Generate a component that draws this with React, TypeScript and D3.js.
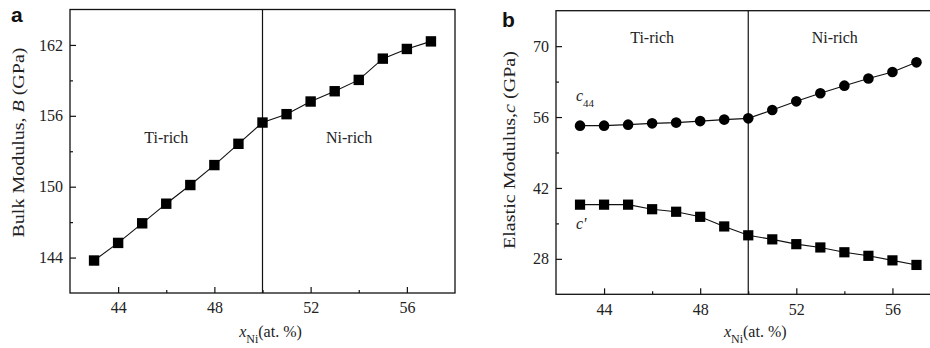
import React, { useEffect, useRef } from "react";
import * as d3 from "d3";

const xNi = [43, 44, 45, 46, 47, 48, 49, 50, 51, 52, 53, 54, 55, 56, 57];
const bulkB = [143.75, 145.24, 146.9, 148.56, 150.14, 151.83, 153.63, 155.43, 156.14, 157.21, 158.08, 159.04, 160.84, 161.66, 162.3];
const c44 = [54.3, 54.3, 54.5, 54.76, 54.9, 55.2, 55.5, 55.74, 57.4, 59.1, 60.7, 62.2, 63.6, 64.9, 66.8];
const cPrime = [38.7, 38.7, 38.7, 37.8, 37.3, 36.3, 34.4, 32.65, 31.85, 30.9, 30.25, 29.3, 28.6, 27.7, 26.8];
const xTicks = [44, 48, 52, 56];
const xMinor = [46, 50, 54];
const yTicksA = [144, 150, 156, 162];
const yMinorA = [147, 153, 159];
const yTicksB = [28, 42, 56, 70];
const yMinorB = [35, 49, 63];
const boundary = 50;

const SERIF = "'Liberation Serif', 'Times New Roman', serif";

export default function App() {
  const ref = useRef<SVGSVGElement | null>(null);

  useEffect(() => {
    const svg = d3.select(ref.current);
    svg.selectAll("*").remove();

    function panel(opts: {
      x0: number; x1: number; yTop: number; yBot: number;
      yDomain: [number, number]; yTicks: number[]; yMinor: number[];
      letter: string; letterX: number; letterY: number;
      yLabel: (t: any) => void; yLabelX: number; yLabelY: number; yLabelLen: number;
      regionY: number; xLabelDx: number;
    }) {
      const g = svg.append("g");
      const x = d3.scaleLinear().domain([42, 58]).range([opts.x0, opts.x1]);
      const y = d3.scaleLinear().domain(opts.yDomain).range([opts.yBot, opts.yTop]);

      // frame
      g.append("rect")
        .attr("x", opts.x0).attr("y", opts.yTop)
        .attr("width", opts.x1 - opts.x0).attr("height", opts.yBot - opts.yTop)
        .attr("fill", "none").attr("stroke", "#111").attr("stroke-width", 1.3);

      // axes
      const ax = g.append("g").attr("transform", `translate(0,${opts.yBot})`)
        .call(d3.axisBottom(x).tickValues(xTicks).tickSize(-6).tickPadding(9).tickFormat(d3.format("d")));
      const axm = g.append("g").attr("transform", `translate(0,${opts.yBot})`)
        .call(d3.axisBottom(x).tickValues(xMinor).tickSize(-3).tickFormat(() => ""));
      const ay = g.append("g").attr("transform", `translate(${opts.x0},0)`)
        .call(d3.axisLeft(y).tickValues(opts.yTicks).tickSize(-6).tickPadding(7).tickFormat(d3.format("d")));
      const aym = g.append("g").attr("transform", `translate(${opts.x0},0)`)
        .call(d3.axisLeft(y).tickValues(opts.yMinor).tickSize(-3).tickFormat(() => ""));
      [ax, axm, ay, aym].forEach((a) => {
        a.select(".domain").remove();
        a.selectAll("line").attr("stroke", "#111").attr("stroke-width", 1.2);
        a.selectAll("text").attr("font-family", SERIF).attr("font-size", 16).attr("fill", "#222");
      });

      // boundary line
      g.append("line")
        .attr("x1", x(boundary)).attr("x2", x(boundary))
        .attr("y1", opts.yTop).attr("y2", opts.yBot)
        .attr("stroke", "#111").attr("stroke-width", 1.2);

      // region labels
      g.append("text").attr("x", x(46)).attr("y", opts.regionY)
        .attr("text-anchor", "middle").attr("font-family", SERIF).attr("font-size", 16).attr("fill", "#222")
        .text("Ti-rich");
      g.append("text").attr("x", x(53.6)).attr("y", opts.regionY)
        .attr("text-anchor", "middle").attr("font-family", SERIF).attr("font-size", 16).attr("fill", "#222")
        .text("Ni-rich");

      // letter
      g.append("text").attr("x", opts.letterX).attr("y", opts.letterY)
        .attr("font-family", "'Liberation Sans', Arial, sans-serif").attr("font-weight", "bold")
        .attr("font-size", 21).attr("fill", "#111").text(opts.letter);

      // y label
      const yl = g.append("text")
        .attr("transform", `translate(${opts.yLabelX},${opts.yLabelY}) rotate(-90)`)
        .attr("text-anchor", "middle").attr("font-family", SERIF).attr("font-size", 16).attr("fill", "#222")
        .attr("textLength", opts.yLabelLen).attr("lengthAdjust", "spacingAndGlyphs");
      opts.yLabel(yl);

      // x label
      const xl = g.append("text")
        .attr("x", x(boundary) + opts.xLabelDx).attr("y", 337)
        .attr("text-anchor", "middle").attr("font-family", SERIF).attr("font-size", 16).attr("fill", "#222");
      xl.append("tspan").attr("font-style", "italic").text("x");
      xl.append("tspan").attr("font-size", 12).attr("dy", 6).text("Ni");
      xl.append("tspan").attr("dy", -6).text("(at. %)");

      return { g, x, y };
    }

    // Panel a
    const a = panel({
      x0: 70, x1: 455, yTop: 9.5, yBot: 293,
      yDomain: [141, 165], yTicks: yTicksA, yMinor: yMinorA,
      letter: "a", letterX: 11, letterY: 22,
      yLabel: (t) => {
        t.append("tspan").text("Bulk Modulus, ");
        t.append("tspan").attr("font-style", "italic").text("B");
        t.append("tspan").text(" (GPa)");
      },
      yLabelX: 24, yLabelY: 142.5, yLabelLen: 190,
      regionY: 143, xLabelDx: 8,
    });
    const lineA = d3.line<number>().x((_, i) => a.x(xNi[i])).y((d) => a.y(d));
    a.g.append("path").attr("d", lineA(bulkB) || "").attr("fill", "none").attr("stroke", "#111").attr("stroke-width", 1.1);
    a.g.selectAll("rect.pt").data(bulkB).enter().append("rect").attr("class", "pt")
      .attr("x", (_, i) => a.x(xNi[i]) - 5.2).attr("y", (d) => a.y(d) - 5.2)
      .attr("width", 10.4).attr("height", 10.4).attr("fill", "#000");

    // Panel b
    const b = panel({
      x0: 556, x1: 940.5, yTop: 10.7, yBot: 294.3,
      yDomain: [21, 77], yTicks: yTicksB, yMinor: yMinorB,
      letter: "b", letterX: 502, letterY: 27,
      yLabel: (t) => {
        t.append("tspan").text("Elastic Modulus,");
        t.append("tspan").attr("font-style", "italic").text("c");
        t.append("tspan").text(" (GPa)");
      },
      yLabelX: 515, yLabelY: 150, yLabelLen: 198,
      regionY: 43, xLabelDx: 7,
    });
    const lineB = d3.line<number>().x((_, i) => b.x(xNi[i])).y((d) => b.y(d));
    b.g.append("path").attr("d", lineB(c44) || "").attr("fill", "none").attr("stroke", "#111").attr("stroke-width", 1.1);
    b.g.append("path").attr("d", lineB(cPrime) || "").attr("fill", "none").attr("stroke", "#111").attr("stroke-width", 1.1);
    b.g.selectAll("circle.pt").data(c44).enter().append("circle").attr("class", "pt")
      .attr("cx", (_, i) => b.x(xNi[i])).attr("cy", (d) => b.y(d)).attr("r", 5.3).attr("fill", "#000");
    b.g.selectAll("rect.pt").data(cPrime).enter().append("rect").attr("class", "pt")
      .attr("x", (_, i) => b.x(xNi[i]) - 5.1).attr("y", (d) => b.y(d) - 5.1)
      .attr("width", 10.2).attr("height", 10.2).attr("fill", "#000");

    // series labels
    const t1 = b.g.append("text").attr("x", 576).attr("y", 101)
      .attr("font-family", SERIF).attr("font-size", 16).attr("fill", "#222");
    t1.append("tspan").attr("font-style", "italic").text("c");
    t1.append("tspan").attr("font-size", 11).attr("dy", 6).text("44");
    b.g.append("text").attr("x", 576).attr("y", 229)
      .attr("font-family", SERIF).attr("font-size", 16).attr("font-style", "italic").attr("fill", "#222")
      .text("c'");
  }, []);

  return (
    <svg
      ref={ref}
      width={930}
      height={348}
      style={{ position: "absolute", left: 0, top: 0, background: "#fff" }}
    />
  );
}
